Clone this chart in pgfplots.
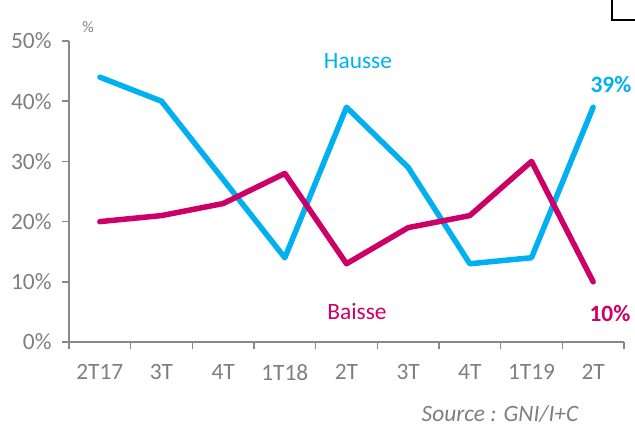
\documentclass[border=0pt]{standalone}
\usepackage{pgfplots}
\pgfplotsset{compat=1.18}
\usepackage{fontspec}
\setmainfont{Carlito}
\definecolor{hausse}{RGB}{0,176,240}
\definecolor{baisse}{RGB}{204,0,102}
\definecolor{axgray}{RGB}{137,137,137}
\definecolor{txtgray}{RGB}{127,127,127}
\newcommand{\fs}{\fontsize{23.4bp}{28bp}\selectfont}
\begin{document}
\begin{tikzpicture}[x=1bp,y=1bp]
\useasboundingbox (-69,-85) rectangle (566,342);
\begin{axis}[
 at={(0,0)}, anchor=south west,
 scale only axis, width=555bp, height=301bp,
 xmin=-0.5, xmax=8.5, ymin=0, ymax=50,
 axis x line*=bottom, axis y line*=left,
 axis line style={axgray, line width=1.5bp},
 xtick={0,...,8}, xticklabels={2T17,3T,4T,1T18,2T,3T,4T,1T19,2T},
 major x tick style={draw=none},
 minor xtick={-0.5,0.5,...,8.5},
 ytick={0,10,...,50}, yticklabels={0\%,10\%,20\%,30\%,40\%,50\%},
 tick align=outside, tick pos=left,
 major tick length=7bp, minor tick length=7bp,
 tick style={axgray, line width=1.5bp},
 ticklabel style={font=\fs, text=txtgray},
 yticklabel style={xshift=-7bp},
 xticklabel style={yshift=-12bp},
 clip=false,
]
\addplot[hausse, line width=5.5bp, line join=round, line cap=round] coordinates {(0,44)(1,40)(2,27)(3,14)(4,39)(5,29)(6,13)(7,14)(8,39)};
\addplot[baisse, line width=5.5bp, line join=round, line cap=round] coordinates {(0,20)(1,21)(2,23)(3,28)(4,13)(5,19)(6,21)(7,30)(8,10)};
\end{axis}
\node[text=hausse, font=\fs] at (289,281) {Hausse};
\node[text=baisse, font=\fs] at (288,30) {Baisse};
\node[text=hausse, font=\fs\bfseries] at (542,257) {39\%};
\node[text=baisse, font=\fs\bfseries] at (541,28) {10\%};
\node[text=txtgray, font=\fontsize{16bp}{19bp}\selectfont] at (19,315) {\%};
\node[text=txtgray, font=\fs\itshape, inner sep=0pt] at (431,-72) {Source : GNI/I+C};
\draw[black, line width=2bp] (543,345) -- (543,322) -- (570,322);
\end{tikzpicture}
\end{document}
